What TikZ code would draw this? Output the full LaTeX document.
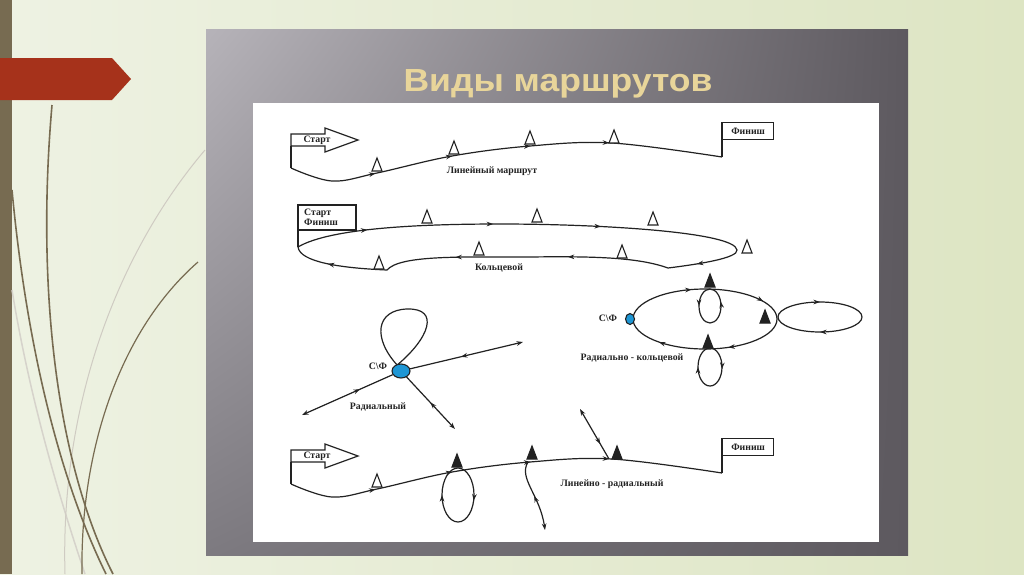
\documentclass[tikz,border=0pt]{standalone}
\usepackage{fontspec}
\setmainfont{Liberation Serif}
\newfontfamily\titlefont{Liberation Sans}
\usetikzlibrary{arrows.meta,calc,decorations.markings,shapes.geometric,shadings}
\definecolor{bgleft}{HTML}{EEF2E3}
\definecolor{bgright}{HTML}{DDE5C3}
\definecolor{stem}{HTML}{776B51}
\definecolor{flagred}{HTML}{A6321B}
\definecolor{panelhi}{HTML}{B6B3B9}
\definecolor{panelmid}{HTML}{7D7A80}
\definecolor{panello}{HTML}{5D595F}
\definecolor{titlegold}{HTML}{E8D59A}
\definecolor{cpblue}{HTML}{1E96D4}
\definecolor{ink}{HTML}{222222}

\tikzset{
  hd/.tip={Stealth[length=6.5pt,width=4.6pt]},
  route/.style={ink,line width=1.2pt},
  ar/.style={postaction={decorate,decoration={markings,mark=at position #1 with {\arrow{hd}}}}},
  ra/.style={postaction={decorate,decoration={markings,mark=at position #1 with {\arrowreversed{hd}}}}},
  lbl/.style={font=\fontsize{9.8}{10}\selectfont\bfseries,inner sep=0pt,ink},
  sf/.style={ellipse,draw=ink,line width=1.1pt,fill=cpblue,inner sep=0pt},
  grass/.style={stem,line width=1.6pt},
}

% контрольный пункт: пустой или залитый треугольник
\newcommand\kp[2][white]{\draw[ink,fill=#1,line width=1.1pt] ($(#2)+(-5,0)$) -- ($(#2)+(5,0)$) -- ($(#2)+(0,-13)$) -- cycle;}

\begin{document}
\begin{tikzpicture}[x=1pt,y=-1pt,>=Stealth]
  \useasboundingbox (0,0) rectangle (1024,574);
  % фон слайда
  \shade[left color=bgleft,right color=bgright] (0,0) rectangle (1024,574);
  \fill[stem] (0,0) rectangle (12,574);
  \fill[flagred] (0,58) -- (112,58) -- (131,79) -- (112,100) -- (0,100) -- cycle;
  % травинки
  \draw[grass,stem!30,line width=1.5pt] (12,290) .. controls (30,400) and (60,500) .. (85,574);
  \draw[grass,stem!35,line width=1pt] (205,150) .. controls (120,250) and (60,400) .. (65,574);
  \draw[grass,line width=1.2pt] (198,262) .. controls (120,330) and (80,450) .. (82,574);
  \draw[grass] (52,105) .. controls (35,300) and (60,470) .. (113,574);
  \draw[grass] (12,190) .. controls (25,330) and (55,470) .. (106,574);

  % рамка со слайдом
  \shade[upper left=panelhi,upper right=panello,lower left=panelmid,lower right=panello] (206,29) rectangle (908,555);
  \node[font=\titlefont\bfseries\fontsize{32}{34}\selectfont,text=titlegold,anchor=base,xscale=1.11] (title) at (558,91) {Виды маршрутов};
  \fill[white] (253,103) rectangle (879,542);

  % линейный и линейно-радиальный: старт, трасса, финиш
  \foreach \dy in {0,316}{
    \begin{scope}[shift={(0,\dy)}]
      \draw[route,fill=white] (291,134) -- (325,134) -- (325,128) -- (358,140) -- (325,152) -- (325,146) -- (291,146) -- cycle;
      \node[lbl] (start\dy) at (317,140) {Старт};
      \draw[route] (291,146) -- (291,168);
      \draw[route,ar=0.2,ar=0.38,ar=0.56,ar=0.74] plot[smooth,tension=0.6] coordinates {(291,168) (332,181) (377,173) (452,156) (530,146) (612,143) (722,157)};
      \draw[route] (722,157) -- (722,122);
      \node[lbl,draw=ink,line width=1.2pt,anchor=north west,minimum width=51,minimum height=17] (fin\dy) at (722,122) {Финиш};
    \end{scope}
  }
  \kp{377,171} \kp{454,154} \kp{530,144} \kp{614,143}
  \node[lbl] (lin) at (492,171) {Линейный маршрут};

  % кольцевой
  \draw[route] (298,205) rectangle (356,230);
  \node[lbl,align=left,anchor=west] (sf0) at (304,217) {Старт\\Финиш};
  \draw[route] (298,230) -- (298,247);
  \draw[route,ar=0.08,ar=0.22,ar=0.34,ar=0.545,ar=0.69,ar=0.815,ar=0.96]
    (298,247) .. controls (330,228) and (420,224) .. (500,224)
    .. controls (600,224) and (735,232) .. (737,250)
    .. controls (738,258) and (700,264) .. (668,268)
    .. controls (640,258) and (600,256) .. (530,257)
    .. controls (460,257) and (400,255) .. (387,270)
    .. controls (340,268) and (300,262) .. (298,247);
  \kp{427,223} \kp{537,222} \kp{653,225} \kp{747,253}
  \kp{479,255} \kp{622,258} \kp{379,269}
  \node[lbl] (ring) at (499,268) {Кольцевой};

  % радиальный
  \coordinate (rNE) at (523,342);
  \coordinate (rSW) at (302,415);
  \coordinate (rSE) at (455,429);
  \draw[route] (398,366) .. controls (372,338) and (376,310) .. (407,309) .. controls (440,308) and (430,338) .. (396,366);
  \node[sf,minimum width=18,minimum height=14] (hub) at (401,371) {};
  \draw[route,-hd,ra=0.45] (hub) -- (rNE);
  \draw[route,-hd,ra=0.36] (hub) -- (rSW);
  \draw[route,-hd,ra=0.49] (hub) -- (rSE);
  \node[lbl] (cf1) at (378,366) {С\textbackslash Ф};
  \node[lbl] (rad) at (378,407) {Радиальный};

  % радиально-кольцевой
  \draw[route,ar=0.18,ar=0.39,ar=0.71,ar=0.93] (705,319) ellipse [x radius=72,y radius=30];
  \draw[route,ra=0.5,ra=0.95] (710,306) ellipse [x radius=11,y radius=17];
  \draw[route,ar=0.5,ar=0.02] (710,367) ellipse [x radius=12,y radius=19];
  \draw[route,ar=0.25,ar=0.75] (820,317) ellipse [x radius=42,y radius=15];
  \node[sf,minimum width=9,minimum height=11] (hub2) at (630,319) {};
  \node[lbl] (cf2) at (608,318) {С\textbackslash Ф};
  \kp[ink]{710,287} \kp[ink]{765,323} \kp[ink]{708,348}
  \node[lbl] (radring) at (632,358) {Радиально - кольцевой};

  % линейно-радиальный: ответвления
  \draw[route,ar=0.04,ar=0.5] (458,495) ellipse [x radius=16,y radius=27];
  \coordinate (b1) at (528,462);
  \coordinate (b1end) at (545,530);
  \draw[route,-hd,ra=0.5] (b1) .. controls (518,478) and (540,495) .. (b1end);
  \coordinate (b2) at (609,459);
  \coordinate (b2end) at (580,409);
  \draw[route,-hd,ra=0.3] (b2) -- (b2end);
  \kp{377,487} \kp[ink]{457,467} \kp[ink]{532,459} \kp[ink]{617,459}
  \node[lbl] (linrad) at (612,484) {Линейно - радиальный};
\end{tikzpicture}
\end{document}
